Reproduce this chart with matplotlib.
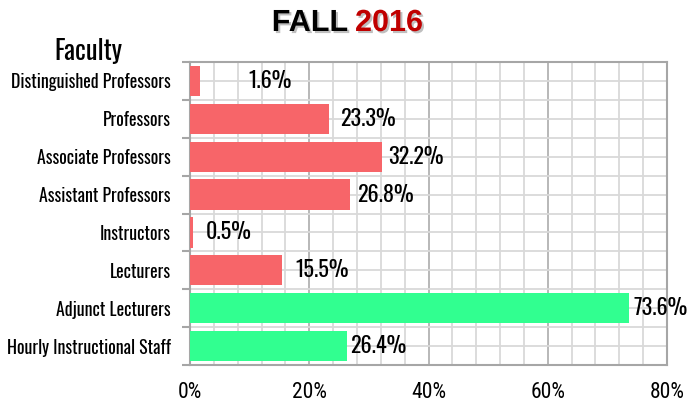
import matplotlib
matplotlib.use("Agg")
import matplotlib.pyplot as plt
import matplotlib.patheffects as pe
from matplotlib.ticker import MultipleLocator, FuncFormatter
from matplotlib.transforms import offset_copy

categories = ["Distinguished Professors", "Professors", "Associate Professors",
              "Assistant Professors", "Instructors", "Lecturers",
              "Adjunct Lecturers", "Hourly Instructional Staff"]
values = [1.6, 23.3, 32.2, 26.8, 0.5, 15.5, 73.6, 26.4]
groups = ["ft", "ft", "ft", "ft", "ft", "ft", "pt", "pt"]
xticks = [0, 20, 40, 60, 80]

colors = {"ft": "#F76569", "pt": "#31FF90"}
# gap (px) between bar end and value label, as placed in the original
label_pad = [49, 11, 6, 7, 13, 13, 5, 3]

fig = plt.figure(figsize=(6.95, 4.04), dpi=100)
ax = fig.add_axes([190 / 695, 1 - 365 / 404, 477 / 695, 303 / 404])

ypos = list(range(len(categories)))
ax.barh(ypos, values, height=0.8, color=[colors[g] for g in groups], zorder=3)

ax.set_xlim(0, 80)
ax.set_ylim(len(categories) - 0.5, -0.5)

# grid
ax.xaxis.set_minor_locator(MultipleLocator(4))
ax.set_xticks(xticks)
ax.xaxis.set_major_formatter(FuncFormatter(lambda v, _: f"{v:.0f}%"))
ax.grid(axis="x", which="minor", color="#d9d9d9", lw=1.3, zorder=0)
ax.grid(axis="x", which="major", color="#b8b8b8", lw=1.4, zorder=0)
ax.set_yticks(ypos)
ax.set_yticks([i + 0.5 for i in range(-1, len(categories))], minor=True)
ax.grid(axis="y", which="both", color="#d9d9d9", lw=1.3, zorder=0)

ax.set_yticklabels(categories, fontfamily="Oswald", fontsize=12.8)
ax.tick_params(axis="y", which="major", length=0, pad=14)
ax.tick_params(axis="y", which="minor", length=6, width=1.5, color="#a6a6a6")
ax.tick_params(axis="x", which="both", length=0, pad=12)
for t in ax.get_xticklabels():
    t.set_fontfamily("Roboto Condensed")
    t.set_fontsize(15.5)

for s in ["left", "bottom", "right", "top"]:
    ax.spines[s].set_color("#a6a6a6")
    ax.spines[s].set_linewidth(1.5)

for y, v, p in zip(ypos, values, label_pad):
    tr = offset_copy(ax.transData, fig=fig, x=p, y=0, units="dots")
    ax.text(v, y, f"{v}%", transform=tr, ha="left", va="center",
            fontfamily="Oswald", fontsize=16, zorder=4)

fig.text(88 / 695, 1 - 51 / 404, "Faculty", ha="center", va="center",
         fontfamily="Oswald", fontsize=19)

shadow = [pe.SimplePatchShadow(offset=(1.5, -1.5), shadow_rgbFace="#808080", alpha=0.5), pe.Normal()]
fig.text(348 / 695, 1 - 23 / 404, "FALL", ha="right", va="center", color="black",
         fontfamily="Liberation Sans", fontweight="bold", fontsize=22, path_effects=shadow)
fig.text(355 / 695, 1 - 23 / 404, "2016", ha="left", va="center", color="#C00000",
         fontfamily="Liberation Sans", fontweight="bold", fontsize=22, path_effects=shadow)

fig.savefig("out.png")
